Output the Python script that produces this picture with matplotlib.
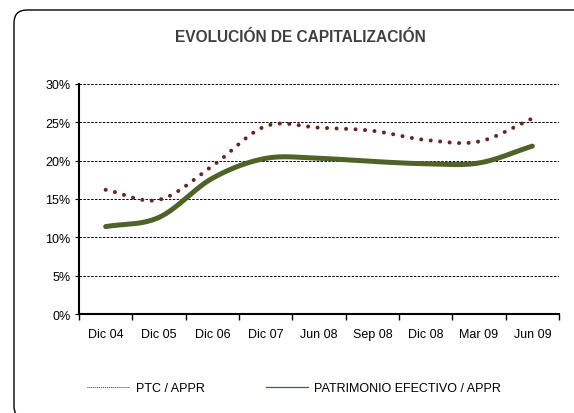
import matplotlib
matplotlib.use("Agg")
import matplotlib.pyplot as plt
import matplotlib.patches as mpatches
from matplotlib.lines import Line2D
from matplotlib.ticker import PercentFormatter, FixedLocator
import numpy as np

plt.rcParams['font.family'] = ['Liberation Sans', 'DejaVu Sans']

# data
periods = ['Dic 04', 'Dic 05', 'Dic 06', 'Dic 07', 'Jun 08', 'Sep 08', 'Dic 08', 'Mar 09', 'Jun 09']
ptc_appr = [16.2, 14.9, 19.3, 24.5, 24.3, 23.9, 22.7, 22.5, 25.5]
pe_appr = [11.4, 12.6, 17.7, 20.3, 20.3, 19.9, 19.6, 19.7, 21.9]

RED = '#6b2424'
GREEN = '#4f6228'


def smooth(y, n=30):
    # catmull-rom style smoothing, like the "smoothed line" option in excel
    y = np.asarray(y, dtype=float)
    yp = np.concatenate([[2 * y[0] - y[1]], y, [2 * y[-1] - y[-2]]])
    xs, ys = [], []
    for i in range(len(y) - 1):
        p0, p1, p2, p3 = yp[i], yp[i + 1], yp[i + 2], yp[i + 3]
        m1 = (p2 - p0) / 2
        m2 = (p3 - p1) / 2
        t = np.linspace(0, 1, n, endpoint=(i == len(y) - 2))
        h00 = 2 * t**3 - 3 * t**2 + 1
        h10 = t**3 - 2 * t**2 + t
        h01 = -2 * t**3 + 3 * t**2
        h11 = t**3 - t**2
        xs.append(i + t)
        ys.append(h00 * p1 + h10 * m1 + h01 * p2 + h11 * m2)
    return np.concatenate(xs), np.concatenate(ys)


fig = plt.figure(figsize=(5.74, 4.14), dpi=100)

# rounded frame around the chart (cut at right/bottom like the original)
frame = mpatches.FancyBboxPatch((0.14, -0.06), 5.9, 4.09,
                                boxstyle="round,pad=0,rounding_size=0.13",
                                transform=fig.dpi_scale_trans,
                                fill=False, edgecolor='black', linewidth=1.0)
fig.patches.append(frame)

ax = fig.add_axes([79 / 574, 1 - 315 / 414, 480 / 574, 230 / 414])

x1, y1 = smooth(ptc_appr)
x2, y2 = smooth(pe_appr)
ax.plot(x1, y1 / 100, color=RED, linewidth=2.9, linestyle=(0, (0.01, 2.35)),
        dash_capstyle='round', zorder=3)
ax.plot(x2, y2 / 100, color=GREEN, linewidth=3.6, solid_capstyle='round', zorder=3)

ax.set_xlim(-0.5, len(periods) - 0.5)
ax.set_ylim(0, 0.30)
ax.set_yticks(np.arange(0, 0.31, 0.05))
ax.yaxis.set_major_formatter(PercentFormatter(1.0, decimals=0))

ax.xaxis.set_major_locator(FixedLocator(np.arange(-0.5, len(periods), 1.0)))
ax.xaxis.set_major_formatter(plt.NullFormatter())
ax.xaxis.set_minor_locator(FixedLocator(np.arange(len(periods))))
ax.set_xticklabels(periods, minor=True)
ax.tick_params(axis='x', which='minor', length=0, pad=10, labelsize=9)
ax.tick_params(axis='x', which='major', length=4, width=1, direction='out')
ax.tick_params(axis='y', length=3, width=0.8, direction='out', labelsize=9, pad=3)

ax.grid(axis='y', color='black', linestyle=(0, (2.5, 1.5)), linewidth=0.7)
ax.set_axisbelow(True)
for s in ['top', 'right']:
    ax.spines[s].set_visible(False)
ax.spines['left'].set_linewidth(1.5)
ax.spines['bottom'].set_linewidth(1.5)

fig.text(300 / 574, 1 - 37 / 414, 'EVOLUCIÓN DE CAPITALIZACIÓN', ha='center', va='center',
         fontsize=11.2, fontweight='bold', color='#404040')

handles = [Line2D([], [], color=RED, linewidth=0.7, linestyle=(0, (1, 1))),
           Line2D([], [], color=GREEN, linewidth=0.9)]
fig.legend(handles, ['PTC / APPR', 'PATRIMONIO EFECTIVO / APPR'], loc='center',
           bbox_to_anchor=(294 / 574, 1 - 389 / 414), ncol=2, frameon=False,
           fontsize=9, handlelength=3.4, handletextpad=0.5, columnspacing=4.9)

fig.savefig('out.png', dpi=100)
